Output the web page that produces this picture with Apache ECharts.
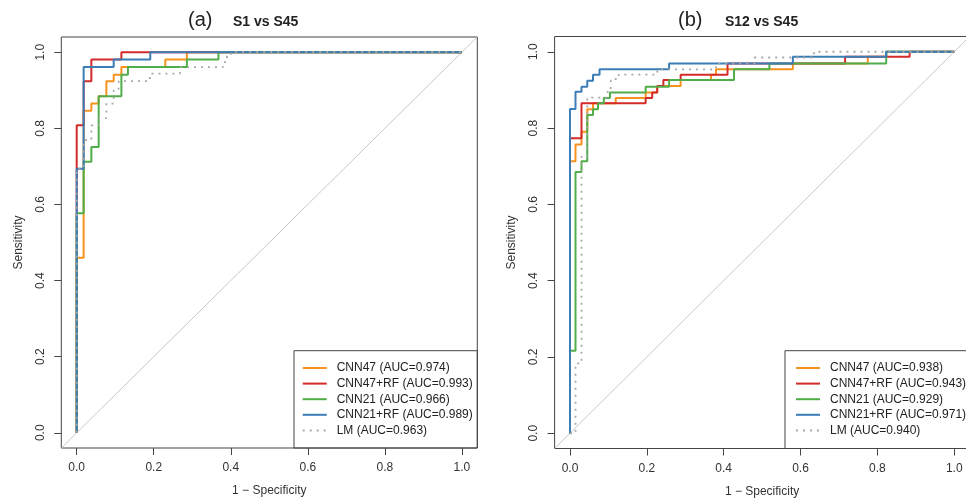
<!DOCTYPE html>
<html>
<head>
<meta charset="utf-8">
<script src="https://cdn.jsdelivr.net/npm/echarts@6/dist/echarts.min.js"></script>
<style>html,body{margin:0;padding:0;background:#fff;}#c{width:966px;height:498px;}</style>
</head>
<body>
<div id="c"></div>
<script>
// ---------- data ----------
const tickValues = [0, 0.2, 0.4, 0.6, 0.8, 1.0];
const diagonal = [[-0.04, -0.04], [1.04, 1.04]];

const namesA = ['CNN47 (AUC=0.974)', 'CNN47+RF (AUC=0.993)', 'CNN21 (AUC=0.966)', 'CNN21+RF (AUC=0.989)', 'LM (AUC=0.963)'];
const namesB = ['CNN47 (AUC=0.938)', 'CNN47+RF (AUC=0.943)', 'CNN21 (AUC=0.929)', 'CNN21+RF (AUC=0.971)', 'LM (AUC=0.940)'];

// panel (a): S1 vs S45  [1-specificity, sensitivity]
const a_cnn47 = [[0,0],[0,0.46],[0.018,0.46],[0.018,0.846],[0.038,0.846],[0.038,0.865],[0.057,0.865],[0.057,0.884],[0.077,0.884],[0.077,0.924],[0.096,0.924],[0.096,0.941],[0.116,0.941],[0.116,0.961],[0.230,0.961],[0.230,0.981],[0.286,0.981],[0.286,1],[1,1]];
const a_cnn47rf = [[0,0],[0,0.808],[0.018,0.808],[0.018,0.924],[0.038,0.924],[0.038,0.981],[0.116,0.981],[0.116,1],[1,1]];
const a_cnn21 = [[0,0],[0,0.577],[0.018,0.577],[0.018,0.712],[0.038,0.712],[0.038,0.751],[0.057,0.751],[0.057,0.884],[0.116,0.884],[0.116,0.941],[0.133,0.941],[0.133,0.961],[0.286,0.961],[0.286,0.981],[0.368,0.981],[0.368,1],[1,1]];
const a_cnn21rf = [[0,0],[0,0.694],[0.018,0.694],[0.018,0.961],[0.096,0.961],[0.096,0.981],[0.191,0.981],[0.191,1],[1,1]];
const a_lm = [[0,0],[0,0.694],[0.018,0.694],[0.018,0.769],[0.038,0.769],[0.038,0.808],[0.057,0.808],[0.057,0.827],[0.077,0.827],[0.077,0.865],[0.096,0.865],[0.096,0.904],[0.109,0.904],[0.109,0.924],[0.19,0.924],[0.19,0.944],[0.268,0.944],[0.268,0.961],[0.38,0.961],[0.38,0.974],[0.39,0.974],[0.39,0.99],[0.40,0.99],[0.40,1],[1,1]];

// panel (b): S12 vs S45
const b_cnn47 = [[0,0],[0,0.713],[0.0144,0.713],[0.0144,0.757],[0.030,0.757],[0.030,0.790],[0.045,0.790],[0.045,0.849],[0.060,0.849],[0.060,0.865],[0.119,0.865],[0.119,0.879],[0.197,0.879],[0.197,0.893],[0.227,0.893],[0.227,0.910],[0.288,0.910],[0.288,0.926],[0.367,0.926],[0.367,0.940],[0.38,0.940],[0.38,0.954],[0.58,0.954],[0.58,0.969],[0.775,0.969],[0.775,0.987],[0.823,0.987],[0.823,1],[1,1]];
const b_cnn47rf = [[0,0],[0,0.773],[0.030,0.773],[0.030,0.865],[0.197,0.865],[0.197,0.879],[0.214,0.879],[0.214,0.893],[0.227,0.893],[0.227,0.910],[0.243,0.910],[0.243,0.926],[0.288,0.926],[0.288,0.940],[0.41,0.940],[0.41,0.969],[0.716,0.969],[0.716,0.987],[0.884,0.987],[0.884,1],[1,1]];
const b_cnn21 = [[0,0],[0,0.216],[0.0144,0.216],[0.0144,0.685],[0.030,0.685],[0.030,0.713],[0.045,0.713],[0.045,0.834],[0.060,0.834],[0.060,0.849],[0.073,0.849],[0.073,0.865],[0.088,0.865],[0.088,0.879],[0.104,0.879],[0.104,0.893],[0.197,0.893],[0.197,0.908],[0.258,0.908],[0.258,0.926],[0.427,0.926],[0.427,0.954],[0.519,0.954],[0.519,0.969],[0.823,0.969],[0.823,1],[1,1]];
const b_cnn21rf = [[0,0],[0,0.850],[0.0144,0.850],[0.0144,0.895],[0.030,0.895],[0.030,0.908],[0.045,0.908],[0.045,0.924],[0.060,0.924],[0.060,0.940],[0.077,0.940],[0.077,0.954],[0.258,0.954],[0.258,0.969],[0.580,0.969],[0.580,0.987],[0.823,0.987],[0.823,1],[1,1]];
const b_lm = [[0,0],[0.0144,0],[0.0144,0.183],[0.030,0.183],[0.030,0.725],[0.045,0.725],[0.045,0.88],[0.095,0.88],[0.095,0.895],[0.106,0.895],[0.106,0.924],[0.119,0.924],[0.119,0.933],[0.127,0.933],[0.127,0.940],[0.227,0.940],[0.227,0.954],[0.38,0.954],[0.38,0.969],[0.48,0.969],[0.48,0.985],[0.635,0.985],[0.635,1],[1,1]];

// ---------- styles ----------
const FONT = '"Liberation Sans", Arial, sans-serif';
const colors = ['#F7921E', '#D42A2A', '#4FAE4A', '#3B7DB6', '#A8A8A8'];
const txt = '#333';
const axisCol = '#444';

function xAxis(gi) {
  return {
    gridIndex: gi, type: 'value', min: -0.04, max: 1.04,
    name: '1 \u2212 Specificity', nameLocation: 'middle', nameGap: 37,
    nameTextStyle: { fontFamily: FONT, fontSize: 12, color: txt },
    axisLine: { show: false, onZero: false },
    splitLine: { show: false },
    axisTick: { show: true, inside: false, length: 7, customValues: tickValues, lineStyle: { color: axisCol } },
    axisLabel: { customValues: tickValues, margin: 14, fontFamily: FONT, fontSize: 12, color: txt,
      formatter: v => v.toFixed(1) }
  };
}
function yAxis(gi) {
  return {
    gridIndex: gi, type: 'value', min: -0.04, max: 1.04,
    name: 'Sensitivity', nameLocation: 'middle', nameGap: 37,
    nameTextStyle: { fontFamily: FONT, fontSize: 12, color: txt },
    axisLine: { show: false, onZero: false },
    splitLine: { show: false },
    axisTick: { show: true, inside: false, length: 7, customValues: tickValues, lineStyle: { color: axisCol } },
    axisLabel: { customValues: tickValues, rotate: 90, margin: 15, fontFamily: FONT, fontSize: 12, color: txt,
      formatter: v => v.toFixed(1) }
  };
}
function roc(name, data, idx, ci) {
  const dotted = ci === 4;
  return {
    name, type: 'line', xAxisIndex: idx, yAxisIndex: idx, data,
    symbol: 'none', animation: false, z: 3 + ci,
    lineStyle: { color: colors[ci], width: dotted ? 1.8 : 2, type: dotted ? [2, 5] : 'solid', cap: 'butt' },
    itemStyle: { color: colors[ci] }
  };
}
function diag(idx) {
  return { type: 'line', xAxisIndex: idx, yAxisIndex: idx, data: diagonal, symbol: 'none', silent: true,
    animation: false, z: 1, lineStyle: { color: '#C8C8C8', width: 1 } };
}
function legend(left, names) {
  return {
    orient: 'vertical', left, top: 361, padding: 0, itemWidth: 24, itemHeight: 14, itemGap: 1.6,
    data: names, selectedMode: false,
    itemStyle: { opacity: 0 },
    textStyle: { fontFamily: FONT, fontSize: 12, color: '#222', lineHeight: 14, padding: [0, 0, 0, 5] }
  };
}

const seriesA = [a_cnn47, a_cnn47rf, a_cnn21, a_cnn21rf, a_lm].map((d, i) => roc(namesA[i], d, 0, i));
const seriesB = [b_cnn47, b_cnn47rf, b_cnn21, b_cnn21rf, b_lm].map((d, i) => roc(namesB[i], d, 1, i));

const chart = echarts.init(document.getElementById('c'), null, { renderer: 'canvas' });
chart.setOption({
  backgroundColor: '#fff',
  animation: false,
  grid: [
    { left: 61.3, top: 37, width: 416, height: 411, containLabel: false, outerBoundsMode: 'none',
      show: true, borderColor: axisCol, borderWidth: 1, backgroundColor: 'transparent' },
    { left: 554.6, top: 36.5, width: 415, height: 412, containLabel: false, outerBoundsMode: 'none',
      show: true, borderColor: axisCol, borderWidth: 1, backgroundColor: 'transparent' }
  ],
  xAxis: [xAxis(0), xAxis(1)],
  yAxis: [yAxis(0), yAxis(1)],
  legend: [legend(301.7, namesA), legend(795, namesB)],
  series: [diag(0), ...seriesA, diag(1), ...seriesB],
  graphic: [
    { type: 'text', left: 188, top: 10, style: { text: '(a)', font: '20px ' + FONT, fill: '#222' } },
    { type: 'text', left: 233, top: 15, style: { text: 'S1 vs S45', font: 'bold 14px ' + FONT, fill: '#222' } },
    { type: 'text', left: 678, top: 10, style: { text: '(b)', font: '20px ' + FONT, fill: '#222' } },
    { type: 'text', left: 725, top: 15, style: { text: 'S12 vs S45', font: 'bold 14px ' + FONT, fill: '#222' } },
    { type: 'rect', shape: { x: 294, y: 350.7, width: 183.3, height: 97.3 }, style: { fill: 'transparent', stroke: axisCol, lineWidth: 1 }, z: 10 },
    { type: 'rect', shape: { x: 785, y: 350.7, width: 190, height: 97.8 }, style: { fill: 'transparent', stroke: axisCol, lineWidth: 1 }, z: 10 }
  ]
});
</script>
</body>
</html>
